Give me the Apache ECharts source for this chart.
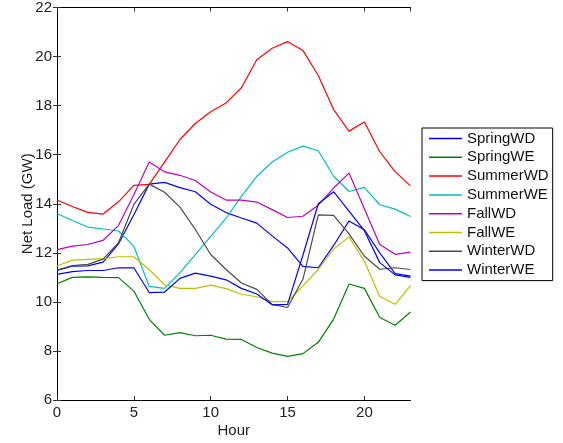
<!DOCTYPE html>
<html>
<head>
<meta charset="utf-8">
<script src="https://cdn.jsdelivr.net/npm/echarts@6/dist/echarts.min.js"></script>
<style>html,body{margin:0;padding:0;background:#fff;}#c{width:563px;height:443px;}</style>
</head>
<body>
<div id="c"></div>
<script>
const hours = [0,1,2,3,4,5,6,7,8,9,10,11,12,13,14,15,16,17,18,19,20,21,22,23];
const seriesNames = ['SpringWD','SpringWE','SummerWD','SummerWE','FallWD','FallWE','WinterWD','WinterWE'];
const springWD = [11.28,11.46,11.47,11.62,12.36,13.55,14.80,14.87,14.66,14.49,13.98,13.64,13.42,13.21,12.69,12.20,11.45,11.39,12.30,13.30,12.94,12.00,11.15,11.05];
const springWE = [10.74,11.00,11.02,11.00,10.99,10.44,9.29,8.64,8.75,8.62,8.64,8.48,8.47,8.14,7.91,7.78,7.89,8.35,9.30,10.73,10.55,9.36,9.05,9.59];
const summerWD = [14.15,13.89,13.65,13.58,14.08,14.75,14.79,15.70,16.62,17.27,17.75,18.11,18.73,19.87,20.34,20.61,20.25,19.23,17.84,16.96,17.33,16.12,15.31,14.73];
const summerWE = [13.60,13.32,13.05,12.97,12.89,12.27,10.63,10.55,11.19,11.93,12.67,13.41,14.30,15.12,15.70,16.10,16.35,16.16,15.12,14.50,14.67,13.96,13.78,13.48];
const fallWD = [12.13,12.27,12.34,12.51,13.11,14.37,15.70,15.30,15.16,14.95,14.48,14.15,14.15,14.07,13.76,13.44,13.49,13.94,14.64,15.25,13.80,12.34,11.94,12.03];
const fallWE = [11.46,11.70,11.73,11.76,11.84,11.84,11.32,10.69,10.55,10.55,10.68,10.54,10.31,10.21,10.01,10.01,10.65,11.32,12.15,12.65,11.66,10.22,9.90,10.66];
const winterWD = [11.30,11.48,11.53,11.74,12.41,13.97,14.80,14.47,13.86,12.95,11.93,11.32,10.77,10.51,9.90,9.77,10.92,13.55,13.53,12.77,11.86,11.33,11.39,11.32];
const winterWE = [11.12,11.23,11.28,11.28,11.39,11.39,10.38,10.40,10.96,11.17,11.05,10.90,10.55,10.32,9.88,9.90,11.90,14.00,14.49,13.70,12.90,11.60,11.10,11.00];
const colors = ['#0000ff','#008000','#ff0000','#00bfbf','#bf00bf','#bfbf00','#4a4a4a','#0000ff'];
const allValues = [springWD,springWE,summerWD,summerWE,fallWD,fallWE,winterWD,winterWE];

const FONT = 'Liberation Sans, Arial, Helvetica, sans-serif';
const chart = echarts.init(document.getElementById('c'), null, {renderer:'canvas'});
const axisCommon = {
  axisLine:{show:true,lineStyle:{color:'#000',width:1}},
  axisTick:{show:true,inside:true,length:4,lineStyle:{color:'#333',width:1}},
  splitLine:{show:false}
};
chart.setOption({
  animation:false,
  grid:{left:57,top:7,width:353.5,height:394.5,containLabel:false},
  xAxis:[
    Object.assign({type:'value',min:0,max:23,interval:5,position:'bottom',
      name:'Hour',nameLocation:'middle',nameGap:23,nameMoveOverlap:false,
      nameTextStyle:{color:'#222',fontSize:15,fontFamily:FONT},
      axisLabel:{color:'#222',fontSize:15,fontFamily:FONT,margin:5,showMaxLabel:false}},axisCommon),
    Object.assign({type:'value',min:0,max:23,interval:5,position:'top',
      axisLabel:{show:false}},axisCommon)
  ],
  yAxis:[
    Object.assign({type:'value',min:6,max:22,interval:2,position:'left',
      name:'Net Load (GW)',nameLocation:'middle',nameGap:22,nameMoveOverlap:false,
      nameTextStyle:{color:'#222',fontSize:15,fontFamily:FONT},
      axisLabel:{color:'#222',fontSize:15,fontFamily:FONT,margin:5}},axisCommon),
    Object.assign({type:'value',min:6,max:22,interval:2,position:'right',
      axisLabel:{show:false}},axisCommon)
  ],
  legend:{
    orient:'vertical',left:422,top:128,
    padding:[3,4,3,7],itemGap:3.8,itemWidth:33,itemHeight:1.5,icon:'rect',
    borderColor:'#000',borderWidth:1,backgroundColor:'#fff',
    textStyle:{color:'#111',fontSize:15,fontFamily:FONT,lineHeight:15},
    data:seriesNames
  },
  series:seriesNames.map((n,i)=>({
    name:n,type:'line',xAxisIndex:0,yAxisIndex:0,
    data:hours.map((h,j)=>[h,allValues[i][j]]),
    symbol:'none',lineStyle:{color:colors[i],width:1.2},itemStyle:{color:colors[i]}
  }))
});
</script>
</body>
</html>
